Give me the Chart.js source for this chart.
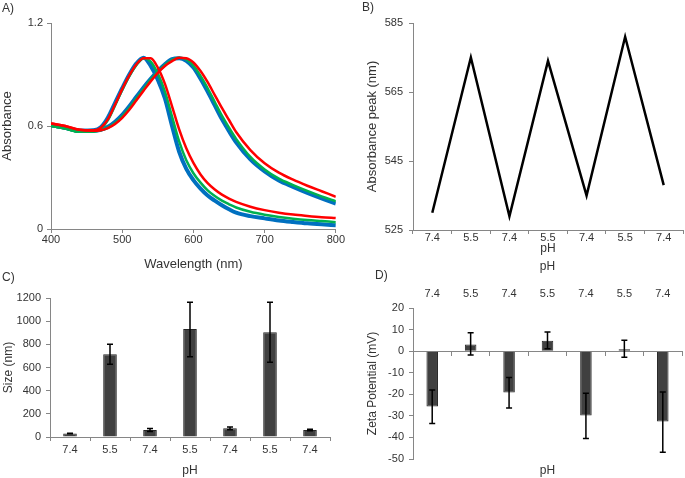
<!DOCTYPE html>
<html>
<head>
<meta charset="utf-8">
<script src="https://cdn.jsdelivr.net/npm/chart.js@4.4.0/dist/chart.umd.min.js"></script>
<style>
  body { margin: 0; background: #fff; }
  #page { position: relative; width: 685px; height: 478px; overflow: hidden; }
  canvas { position: absolute; }
  .tag { position: absolute; font: 12px 'Liberation Sans Narrow', 'Liberation Sans', sans-serif; color: #333; }
</style>
</head>
<body>
<div id="page">
  <canvas id="panelA" width="345" height="276" style="left:0;top:0"></canvas>
  <canvas id="panelB" width="340" height="270" style="left:345px;top:0"></canvas>
  <canvas id="panelC" width="345" height="208" style="left:0;top:270px"></canvas>
  <canvas id="panelD" width="340" height="223" style="left:345px;top:255px"></canvas>
  <div class="tag" style="left:2px;top:1px">A)</div>
  <div class="tag" style="left:362px;top:0px">B)</div>
  <div class="tag" style="left:2px;top:270px">C)</div>
  <div class="tag" style="left:375px;top:268px">D)</div>
</div>
<script>
// panel A - spectra (normalised absorbance)
const wavelengths = [400, 420, 440, 460, 470, 480, 490, 500, 510, 520, 530, 540, 550, 560, 570, 580, 590, 600, 610, 620, 630, 640, 650, 660, 680, 700, 720, 740, 760, 780, 800]
const blueAcid7 = [0.605, 0.59, 0.572, 0.575, 0.593, 0.65, 0.735, 0.82, 0.9, 0.965, 0.998, 0.95, 0.87, 0.76, 0.6, 0.45, 0.35, 0.285, 0.235, 0.195, 0.165, 0.138, 0.115, 0.095, 0.075, 0.062, 0.05, 0.041, 0.033, 0.027, 0.022]
const greenAcid7 = [0.6, 0.585, 0.566, 0.568, 0.585, 0.635, 0.72, 0.81, 0.89, 0.955, 0.995, 0.975, 0.905, 0.8, 0.655, 0.51, 0.4, 0.325, 0.27, 0.225, 0.192, 0.165, 0.144, 0.125, 0.1, 0.083, 0.07, 0.06, 0.052, 0.046, 0.04]
const redAcid7 = [0.615, 0.6, 0.578, 0.575, 0.59, 0.64, 0.725, 0.815, 0.895, 0.96, 0.995, 0.995, 0.94, 0.845, 0.715, 0.58, 0.47, 0.385, 0.318, 0.267, 0.23, 0.2, 0.177, 0.158, 0.13, 0.11, 0.095, 0.084, 0.076, 0.069, 0.064]
const blueAcid5 = [0.605, 0.59, 0.572, 0.572, 0.578, 0.595, 0.625, 0.665, 0.715, 0.77, 0.825, 0.875, 0.92, 0.96, 0.99, 0.995, 0.98, 0.94, 0.875, 0.8, 0.72, 0.64, 0.57, 0.505, 0.405, 0.335, 0.282, 0.245, 0.21, 0.178, 0.148]
const greenAcid5 = [0.6, 0.585, 0.566, 0.568, 0.575, 0.59, 0.618, 0.655, 0.705, 0.76, 0.815, 0.87, 0.915, 0.955, 0.985, 0.997, 0.988, 0.952, 0.892, 0.82, 0.74, 0.66, 0.59, 0.525, 0.42, 0.347, 0.293, 0.256, 0.222, 0.19, 0.162]
const redAcid5 = [0.615, 0.6, 0.578, 0.572, 0.575, 0.588, 0.612, 0.648, 0.695, 0.75, 0.805, 0.86, 0.91, 0.95, 0.978, 0.997, 0.995, 0.97, 0.92, 0.855, 0.78, 0.705, 0.635, 0.565, 0.46, 0.383, 0.328, 0.287, 0.252, 0.22, 0.188]

// panel B - absorbance peak per pH step
const phSteps = ['7.4', '5.5', '7.4', '5.5', '7.4', '5.5', '7.4']
const peakNm = [530, 575, 529, 574, 535, 581, 538]

// panel C - size
const sizeNm = [30, 714, 60, 932, 75, 904, 60]
const sizeLow = [27, 627, 47, 693, 63, 645, 53]
const sizeHigh = [33, 800, 73, 1163, 87, 1163, 67]

// panel D - zeta potential
const zetaMv = [-25.7, 3.1, -19.2, 4.8, -29.8, 0.9, -32.6]
const zetaLow = [-33.5, -1.8, -26.3, 1.1, -40.5, -2.8, -46.9]
const zetaHigh = [-18, 8.5, -12.2, 8.9, -19.5, 5.1, -18.9]

const AXIS = '#868686'
const TEXT = '#333333'
const NARROW = "'Liberation Sans Narrow', 'Liberation Sans', sans-serif"
const SANS = "'Liberation Sans', Arial, sans-serif"

const errorBars = {
  id: 'errorBars',
  afterDatasetsDraw (chart, args, opts) {
    const meta = chart.getDatasetMeta(0)
    const y = chart.scales.y
    const ctx = chart.ctx
    ctx.save()
    ctx.strokeStyle = '#000'
    ctx.lineWidth = 1.5
    meta.data.forEach((bar, i) => {
      const top = y.getPixelForValue(opts.high[i])
      const bot = y.getPixelForValue(opts.low[i])
      ctx.beginPath()
      ctx.moveTo(bar.x, top)
      ctx.lineTo(bar.x, bot)
      ctx.moveTo(bar.x - 3, top)
      ctx.lineTo(bar.x + 3, top)
      ctx.moveTo(bar.x - 3, bot)
      ctx.lineTo(bar.x + 3, bot)
      ctx.stroke()
    })
    ctx.restore()
  }
}

const fixW = w => scale => { scale.width = w }
const fixH = h => scale => { scale.height = h }
const plain = v => String(v)
const tickGrid = (len, offset) => ({ display: true, drawOnChartArea: false, drawTicks: true, tickLength: len, color: AXIS, offset: offset })

// panelA
const spec = (data, color, width, order) => ({
  data: wavelengths.map((w, i) => ({ x: w, y: data[i] })),
  borderColor: color,
  borderWidth: width,
  order: order,
  pointRadius: 0,
  cubicInterpolationMode: 'monotone',
  fill: false
})
new Chart(document.getElementById('panelA'), {
  type: 'line',
  data: {
    datasets: [
      spec(blueAcid7, '#0070C0', 4, 3),
      spec(blueAcid5, '#0070C0', 4, 3),
      spec(greenAcid7, '#00B050', 2.5, 2),
      spec(greenAcid5, '#00B050', 2.5, 2),
      spec(redAcid7, '#FF0000', 2.5, 1),
      spec(redAcid5, '#FF0000', 2.5, 1)
    ]
  },
  options: {
    responsive: false,
    animation: false,
    devicePixelRatio: 1,
    layout: { padding: { top: 23, right: 9, left: 0, bottom: 0 } },
    plugins: { legend: { display: false }, tooltip: { enabled: false } },
    scales: {
      x: {
        type: 'linear', min: 400, max: 800,
        afterFit: fixH(47),
        ticks: { stepSize: 100, padding: 0, color: TEXT, font: { family: NARROW, size: 11 } },
        grid: tickGrid(4, false),
        border: { color: AXIS },
        title: { display: true, text: 'Wavelength (nm)', color: TEXT, font: { family: NARROW, size: 13 }, padding: { top: 0, bottom: 4 } }
      },
      y: {
        min: 0, max: 1.2,
        afterFit: fixW(51),
        ticks: { stepSize: 0.6, padding: 4, color: TEXT, font: { family: NARROW, size: 11 } },
        grid: tickGrid(4, false),
        border: { color: AXIS },
        title: { display: true, text: 'Absorbance', color: TEXT, font: { family: NARROW, size: 13 }, padding: { top: 0, bottom: 0 } }
      }
    }
  }
})

// panelB
new Chart(document.getElementById('panelB'), {
  type: 'line',
  data: {
    labels: phSteps,
    datasets: [{ data: peakNm, borderColor: '#000', borderWidth: 2.5, pointRadius: 0, tension: 0, fill: false }]
  },
  options: {
    responsive: false,
    animation: false,
    devicePixelRatio: 1,
    layout: { padding: { top: 23, right: 2, left: 0, bottom: 0 } },
    plugins: { legend: { display: false }, tooltip: { enabled: false } },
    scales: {
      x: {
        offset: true,
        afterFit: fixH(40),
        ticks: { padding: -3, color: TEXT, font: { family: NARROW, size: 11 } },
        grid: tickGrid(4, true),
        border: { color: AXIS },
        title: { display: true, text: 'pH', color: TEXT, font: { family: NARROW, size: 12 }, padding: { top: 0, bottom: 14 } }
      },
      y: {
        min: 525, max: 585,
        afterFit: fixW(68),
        ticks: { stepSize: 20, padding: 6, color: TEXT, font: { family: NARROW, size: 11 } },
        grid: tickGrid(4, false),
        border: { color: AXIS },
        title: { display: true, text: 'Absorbance peak (nm)', color: TEXT, font: { family: NARROW, size: 13 }, padding: { top: 20, bottom: 0 } }
      }
    }
  }
})

// panelC
new Chart(document.getElementById('panelC'), {
  type: 'bar',
  data: {
    labels: phSteps,
    datasets: [{ data: sizeNm, backgroundColor: '#404040', borderColor: '#262626', borderWidth: 1, barPercentage: 0.34, categoryPercentage: 1 }]
  },
  plugins: [errorBars],
  options: {
    responsive: false,
    animation: false,
    devicePixelRatio: 1,
    layout: { padding: { top: 28, right: 15, left: 0, bottom: 0 } },
    plugins: { legend: { display: false }, tooltip: { enabled: false }, errorBars: { low: sizeLow, high: sizeHigh } },
    scales: {
      x: {
        afterFit: fixH(41),
        ticks: { padding: 2, color: TEXT, font: { family: SANS, size: 11 } },
        grid: tickGrid(4, true),
        border: { color: AXIS },
        title: { display: true, text: 'pH', color: TEXT, font: { family: SANS, size: 12 }, padding: { top: 0, bottom: 0 } }
      },
      y: {
        min: 0, max: 1200,
        afterFit: fixW(50),
        ticks: { stepSize: 200, padding: 5, callback: plain, color: TEXT, font: { family: SANS, size: 11 } },
        grid: tickGrid(4, false),
        border: { color: AXIS },
        title: { display: true, text: 'Size (nm)', color: TEXT, font: { family: SANS, size: 12 }, padding: { top: 1, bottom: 0 } }
      }
    }
  }
})

// panelD
new Chart(document.getElementById('panelD'), {
  type: 'bar',
  data: {
    labels: phSteps,
    datasets: [{ data: zetaMv, backgroundColor: '#404040', borderColor: '#262626', borderWidth: 1, barPercentage: 0.3, categoryPercentage: 1 }]
  },
  plugins: [errorBars],
  options: {
    responsive: false,
    animation: false,
    devicePixelRatio: 1,
    layout: { padding: { top: 0, right: 3, left: 0, bottom: 0 } },
    plugins: { legend: { display: false }, tooltip: { enabled: false }, errorBars: { low: zetaLow, high: zetaHigh } },
    scales: {
      x: {
        position: 'top',
        afterFit: fixH(53),
        ticks: { padding: 7, color: TEXT, font: { family: SANS, size: 11 } },
        grid: { display: false, drawTicks: false },
        border: { display: false },
        title: { display: true, text: 'pH', color: TEXT, font: { family: SANS, size: 12 }, padding: { top: 4, bottom: 0 } }
      },
      zeroLine: {
        type: 'category',
        axis: 'x',
        labels: phSteps,
        position: { y: 0 },
        offset: true,
        ticks: { display: false },
        grid: tickGrid(4, true),
        border: { color: AXIS }
      },
      xTitle: {
        type: 'category',
        axis: 'x',
        labels: phSteps,
        position: 'bottom',
        afterFit: fixH(19),
        ticks: { display: false },
        grid: { display: false, drawTicks: false },
        border: { display: false },
        title: { display: true, text: 'pH', color: TEXT, font: { family: SANS, size: 12 }, padding: { top: 0, bottom: 0 } }
      },
      y: {
        min: -50, max: 20,
        afterFit: fixW(68),
        ticks: { stepSize: 10, padding: 5, color: TEXT, font: { family: SANS, size: 11 } },
        grid: tickGrid(4, false),
        border: { color: AXIS },
        title: { display: true, text: 'Zeta Potential (mV)', color: TEXT, font: { family: SANS, size: 12 }, padding: { top: 20, bottom: 0 } }
      }
    }
  }
})
</script>
</body>
</html>
